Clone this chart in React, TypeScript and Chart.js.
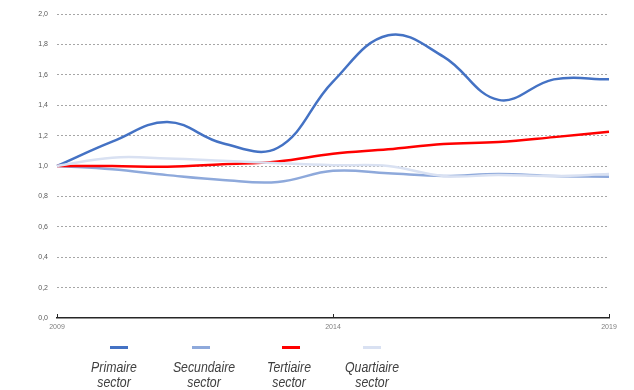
import React, { useEffect, useRef } from "react";
import { Chart, registerables } from "chart.js";

Chart.register(...registerables);

// Index per sector, 2009 = 1,0
const years = ["2009", "2010", "2011", "2012", "2013", "2014", "2015", "2016", "2017", "2018", "2019"];
const primaire = [1.0, 1.16, 1.29, 1.15, 1.12, 1.555, 1.86, 1.72, 1.435, 1.57, 1.57];
const secundaire = [1.0, 0.978, 0.94, 0.908, 0.895, 0.968, 0.952, 0.934, 0.947, 0.934, 0.93];
const tertiaire = [1.0, 1.0, 0.995, 1.012, 1.03, 1.08, 1.11, 1.145, 1.158, 1.19, 1.226];
const quartiaire = [1.0, 1.055, 1.05, 1.035, 1.018, 1.005, 1.0, 0.935, 0.94, 0.934, 0.947];

const seriesNames = [
  ["Primaire", "sector"],
  ["Secundaire", "sector"],
  ["Tertiaire", "sector"],
  ["Quartiaire", "sector"],
];
const seriesColors = ["#4472C4", "#8EA9DB", "#FF0000", "#D9E1F2"];
const labeledYears = ["2009", "2014", "2019"];

const AXIS_FONT = "'Liberation Sans', Arial, sans-serif";
const LEGEND_FONT = "'Liberation Sans', Arial, sans-serif";

// Small upward tick marks on the category axis
const axisTicks = {
  id: "axisTicks",
  afterDraw(chart: any) {
    const { ctx, scales, chartArea } = chart;
    const x = scales.x;
    ctx.save();
    ctx.strokeStyle = "#262626";
    ctx.lineWidth = 1;
    years.forEach((y, i) => {
      if (!labeledYears.includes(y)) return;
      const px = Math.round(x.getPixelForValue(i)) + 0.5;
      ctx.beginPath();
      ctx.moveTo(px, chartArea.bottom);
      ctx.lineTo(px, chartArea.bottom - 4);
      ctx.stroke();
    });
    ctx.restore();
  },
};

// Legend: short line sample above a two-line, narrow italic label
const stackedLegend = {
  id: "stackedLegend",
  afterDraw(chart: any) {
    const { ctx } = chart;
    const markerCenters = [119, 201, 291, 372];
    const textCenters = [114, 204, 289, 372];
    ctx.save();
    chart.data.datasets.forEach((ds: any, i: number) => {
      const mx = markerCenters[i];
      ctx.strokeStyle = ds.borderColor;
      ctx.lineWidth = 3;
      ctx.beginPath();
      ctx.moveTo(mx - 9, 347.5);
      ctx.lineTo(mx + 9, 347.5);
      ctx.stroke();
      ctx.fillStyle = "#404040";
      ctx.font = `italic 15px ${LEGEND_FONT}`;
      ctx.textAlign = "center";
      ctx.textBaseline = "alphabetic";
      const lines: string[] = ds.label;
      lines.forEach((t, j) => {
        ctx.save();
        ctx.translate(textCenters[i], 371.5 + j * 15.5);
        ctx.scale(0.82, 1);
        ctx.fillText(t, 0, 0);
        ctx.restore();
      });
    });
    ctx.restore();
  },
};

export default function App() {
  const ref = useRef<HTMLCanvasElement | null>(null);

  useEffect(() => {
    document.body.style.margin = "0";
    const canvas = ref.current;
    if (!canvas) return;
    const series = [primaire, secundaire, tertiaire, quartiaire];
    const chart = new Chart(canvas, {
      type: "line",
      data: {
        labels: years,
        datasets: series.map((values, i) => ({
          label: seriesNames[i] as any,
          data: values,
          borderColor: seriesColors[i],
          backgroundColor: seriesColors[i],
          borderWidth: 2.5,
          pointRadius: 0,
          tension: 0.4,
          fill: false,
          order: series.length - i,
        })),
      },
      options: {
        responsive: false,
        animation: false,
        layout: { padding: { left: 0, right: 25, top: 14, bottom: 0 } },
        plugins: {
          legend: { display: false },
          tooltip: { enabled: false },
        },
        scales: {
          x: {
            type: "category",
            offset: false,
            grid: { display: false, drawTicks: false },
            border: { display: true, color: "#262626", width: 1.5 },
            ticks: {
              autoSkip: false,
              maxRotation: 0,
              padding: 5,
              color: "#7f7f7f",
              font: { family: AXIS_FONT, size: 7 },
              callback: (_v: any, i: number) => (labeledYears.includes(years[i]) ? years[i] : ""),
            },
            afterFit: (s: any) => {
              s.height = 72;
            },
          },
          y: {
            min: 0,
            max: 2,
            grid: {
              drawTicks: false,
              color: (c: any) => (c.tick && c.tick.value === 0 ? "rgba(0,0,0,0)" : "#a6a6a6"),
              lineWidth: 1,
            },
            border: { display: false, dash: [2, 2] },
            ticks: {
              stepSize: 0.2,
              padding: 9,
              color: "#595959",
              font: { family: AXIS_FONT, size: 7 },
              callback: (v: any) => Number(v).toFixed(1).replace(".", ","),
            },
            afterFit: (s: any) => {
              s.width = 57;
            },
          },
        },
      },
      plugins: [axisTicks, stackedLegend],
    });
    return () => chart.destroy();
  }, []);

  return <canvas ref={ref} width={634} height={390} style={{ display: "block" }} />;
}
